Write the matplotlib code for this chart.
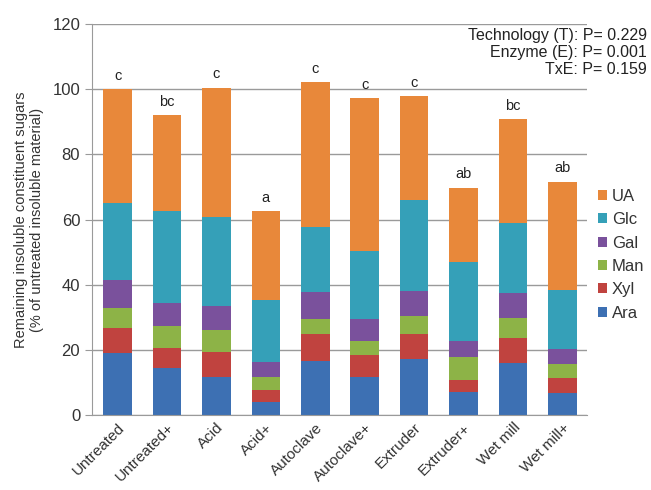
import numpy as np
import matplotlib.pyplot as plt

plt.rcParams['font.family'] = ['Liberation Sans', 'DejaVu Sans']

treatments = ['Untreated', 'Untreated+', 'Acid', 'Acid+', 'Autoclave',
              'Autoclave+', 'Extruder', 'Extruder+', 'Wet mill', 'Wet mill+']

# remaining amount of each sugar, % of untreated insoluble material
ara = [18.9, 14.3, 11.7, 4.1, 16.6, 11.7, 17.1, 7.1, 16.0, 6.8]
xyl = [7.9, 6.4, 7.7, 3.5, 8.2, 6.6, 7.9, 3.8, 7.5, 4.6]
man = [6.0, 6.5, 6.6, 4.1, 4.6, 4.4, 5.3, 6.9, 6.3, 4.2]
gal = [8.7, 7.1, 7.5, 4.6, 8.3, 6.7, 7.9, 4.9, 7.6, 4.8]
glc = [23.5, 28.4, 27.4, 18.9, 20.1, 20.8, 27.8, 24.2, 21.4, 18.0]
ua = [35.0, 29.3, 39.5, 27.3, 44.3, 47.0, 31.9, 22.9, 31.9, 33.2]

letters = ['c', 'bc', 'c', 'a', 'c', 'c', 'c', 'ab', 'bc', 'ab']

sugars = ['Ara', 'Xyl', 'Man', 'Gal', 'Glc', 'UA']
series = [ara, xyl, man, gal, glc, ua]
colors = ['#3d70b3', '#c0433f', '#8db347', '#7a519c', '#35a0b8', '#e8883a']

fig = plt.figure(figsize=(6.51, 4.9), dpi=100)
ax = fig.add_axes([0.1413, 0.153, 0.7604, 0.798])

x = np.arange(len(treatments))
bottom = np.zeros(len(treatments))
handles = []
for name, vals, c in zip(sugars, series, colors):
	vals = np.array(vals)
	b = ax.bar(x, vals, 0.58, bottom=bottom, color=c, label=name, zorder=2)
	handles.append(b)
	bottom += vals

for xi, top, lab in zip(x, bottom, letters):
	ax.text(xi, top + 2.0, lab, ha='center', va='bottom', fontsize=10.5, color='#222222')

ax.set_xlim(-0.52, 9.5)
ax.set_ylim(0, 120)
ax.set_yticks(np.arange(0, 121, 20))
ax.yaxis.grid(True, color='#9a9a9a', linewidth=1.0, zorder=0)
ax.set_axisbelow(True)
for s in ['top', 'right']:
	ax.spines[s].set_visible(False)
for s in ['left', 'bottom']:
	ax.spines[s].set_color('#9a9a9a')
ax.tick_params(axis='y', length=5, color='#9a9a9a', labelsize=12, labelcolor='#333333')
ax.tick_params(axis='x', length=0, labelsize=11, labelcolor='#333333', pad=4)
ax.set_xticks(x)
ax.set_xticklabels(treatments, rotation=45, ha='right', rotation_mode='anchor')

ax.set_ylabel('Remaining insoluble constituent sugars\n(% of untreated insoluble material)',
              fontsize=10.5, color='#333333', labelpad=6)

fig.text(0.994, 0.893, 'Technology (T): P= 0.229\nEnzyme (E): P= 0.001\nTxE: P= 0.159',
         ha='right', va='center', fontsize=11.5, color='#222222', linespacing=1.2,
         multialignment='right')

leg = fig.legend(handles[::-1], sugars[::-1], loc='center left',
                 bbox_to_anchor=(0.908, 0.48), frameon=False, fontsize=12,
                 handlelength=0.55, handleheight=0.55, handletextpad=0.3,
                 labelspacing=0.5, borderaxespad=0)
for t in leg.get_texts():
	t.set_color('#333333')

fig.savefig('out.png', dpi=100)
